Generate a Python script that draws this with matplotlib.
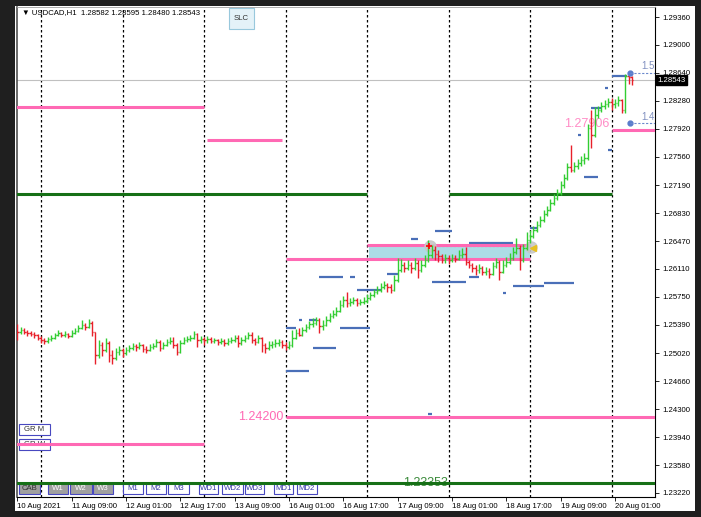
import numpy as np
import matplotlib.pyplot as plt
import matplotlib.transforms as mtransforms
from matplotlib.patches import Rectangle

# USDCAD H1 bars, bar 0 = 11 Aug 2021 00:00 (opens = previous close)
start_bar = -7
first_open = 1.2537
closes = [
    1.2530, 1.2532, 1.2530, 1.2528, 1.2527, 1.2526, 1.2522,
    1.2519, 1.2518, 1.2521, 1.2522, 1.2526, 1.2528, 1.2526, 1.2527, 1.2524, 1.2528, 1.2531, 1.2535,
    1.2539, 1.2536, 1.2541, 1.2530, 1.2500, 1.2513, 1.2506, 1.2515, 1.2500, 1.2496, 1.2504, 1.2506,
    1.2503, 1.2506, 1.2509, 1.2512, 1.2510, 1.2513, 1.2508, 1.2506, 1.2510, 1.2512, 1.2517, 1.2509,
    1.2513, 1.2517, 1.2518, 1.2513, 1.2504, 1.2515, 1.2519, 1.2521, 1.2522, 1.2527, 1.2519, 1.2521,
    1.2519, 1.2521, 1.2518, 1.2519, 1.2517, 1.2518, 1.2515, 1.2518, 1.2519, 1.2522, 1.2515, 1.2519,
    1.2522, 1.2526, 1.2519, 1.2517, 1.2522, 1.2513, 1.2509, 1.2513, 1.2514, 1.2515, 1.2517, 1.2513,
    1.2510, 1.2513, 1.2522, 1.2528, 1.2526, 1.2532, 1.2536, 1.2540, 1.2541, 1.2545, 1.2537, 1.2539,
    1.2545, 1.2550, 1.2553, 1.2557, 1.2564, 1.2571, 1.2567, 1.2568, 1.2571, 1.2567, 1.2568, 1.2570,
    1.2573, 1.2577, 1.2581, 1.2584, 1.2588, 1.2590, 1.2588, 1.2584, 1.2597, 1.2610, 1.2616, 1.2612,
    1.2616, 1.2612, 1.2619, 1.2610, 1.2616, 1.2622, 1.2629, 1.2635, 1.2630, 1.2628, 1.2622, 1.2625,
    1.2622, 1.2625, 1.2624, 1.2629, 1.2630, 1.2620, 1.2616, 1.2612, 1.2610, 1.2612, 1.2607, 1.2608,
    1.2604, 1.2615, 1.2620, 1.2607, 1.2616, 1.2620, 1.2625, 1.2633, 1.2638, 1.2622, 1.2638, 1.2648,
    1.2653, 1.2661, 1.2668, 1.2674, 1.2682, 1.2687, 1.2696, 1.2702, 1.2709, 1.2719, 1.2728, 1.2742,
    1.2739, 1.2744, 1.2748, 1.2751, 1.2754, 1.2793, 1.2784, 1.2810, 1.2816, 1.2821, 1.2824, 1.2826,
    1.2824, 1.2825, 1.2829, 1.2816, 1.2860, 1.28582, 1.28543,
]
highs = [
    1.2540, 1.2536, 1.2535, 1.2532, 1.2531, 1.2530, 1.2527,
    1.2524, 1.2522, 1.2523, 1.2526, 1.2528, 1.2532, 1.2530, 1.2531, 1.2528, 1.2532, 1.2535, 1.2539,
    1.2545, 1.2541, 1.2546, 1.2544, 1.2528, 1.2519, 1.2517, 1.2522, 1.2518, 1.2506, 1.2509, 1.2512,
    1.2509, 1.2510, 1.2513, 1.2515, 1.2514, 1.2517, 1.2514, 1.2512, 1.2514, 1.2515, 1.2521, 1.2519,
    1.2517, 1.2521, 1.2523, 1.2523, 1.2515, 1.2519, 1.2523, 1.2524, 1.2526, 1.2531, 1.2528, 1.2524,
    1.2523, 1.2524, 1.2523, 1.2522, 1.2521, 1.2522, 1.2521, 1.2522, 1.2523, 1.2526, 1.2526, 1.2523,
    1.2526, 1.2530, 1.2530, 1.2522, 1.2526, 1.2523, 1.2515, 1.2518, 1.2518, 1.2521, 1.2521, 1.2519,
    1.2517, 1.2518, 1.2532, 1.2533, 1.2535, 1.2536, 1.2540, 1.2544, 1.2548, 1.2549, 1.2548, 1.2545,
    1.2550, 1.2554, 1.2558, 1.2562, 1.2571, 1.2576, 1.2581, 1.2573, 1.2575, 1.2573, 1.2572, 1.2575,
    1.2579, 1.2581, 1.2585, 1.2589, 1.2593, 1.2595, 1.2593, 1.2592, 1.2603, 1.2625, 1.2624, 1.2620,
    1.2622, 1.2620, 1.2625, 1.2622, 1.2622, 1.2629, 1.2648, 1.2642, 1.2641, 1.2635, 1.2630, 1.2630,
    1.2629, 1.2630, 1.2629, 1.2635, 1.2638, 1.2639, 1.2622, 1.2619, 1.2616, 1.2617, 1.2615, 1.2613,
    1.2612, 1.2620, 1.2625, 1.2622, 1.2622, 1.2626, 1.2632, 1.2639, 1.2651, 1.2642, 1.2643, 1.2659,
    1.2661, 1.2666, 1.2673, 1.2679, 1.2687, 1.2692, 1.2701, 1.2708, 1.2714, 1.2724, 1.2733, 1.2748,
    1.2771, 1.2749, 1.2753, 1.2757, 1.2761, 1.2798, 1.2816, 1.2820, 1.2821, 1.2826, 1.2829, 1.2831,
    1.2831, 1.2830, 1.2834, 1.2830, 1.2862, 1.2861, 1.28595,
]
lows = [
    1.2519, 1.2527, 1.2527, 1.2524, 1.2524, 1.2522, 1.2519,
    1.2515, 1.2514, 1.2515, 1.2518, 1.2521, 1.2524, 1.2523, 1.2523, 1.2522, 1.2523, 1.2527, 1.2530,
    1.2533, 1.2532, 1.2535, 1.2524, 1.2488, 1.2496, 1.2499, 1.2504, 1.2491, 1.2488, 1.2493, 1.2500,
    1.2497, 1.2500, 1.2504, 1.2506, 1.2505, 1.2508, 1.2504, 1.2503, 1.2505, 1.2508, 1.2510, 1.2505,
    1.2508, 1.2512, 1.2514, 1.2509, 1.2500, 1.2503, 1.2514, 1.2517, 1.2518, 1.2521, 1.2510, 1.2515,
    1.2513, 1.2515, 1.2515, 1.2515, 1.2513, 1.2514, 1.2512, 1.2513, 1.2515, 1.2517, 1.2510, 1.2513,
    1.2517, 1.2521, 1.2515, 1.2513, 1.2515, 1.2504, 1.2503, 1.2506, 1.2509, 1.2510, 1.2512, 1.2509,
    1.2506, 1.2508, 1.2510, 1.2521, 1.2524, 1.2524, 1.2530, 1.2533, 1.2536, 1.2539, 1.2528, 1.2532,
    1.2537, 1.2543, 1.2548, 1.2550, 1.2555, 1.2562, 1.2562, 1.2563, 1.2566, 1.2563, 1.2564, 1.2566,
    1.2567, 1.2571, 1.2575, 1.2579, 1.2581, 1.2585, 1.2581, 1.2580, 1.2583, 1.2594, 1.2607, 1.2607,
    1.2610, 1.2606, 1.2610, 1.2599, 1.2607, 1.2613, 1.2620, 1.2625, 1.2622, 1.2620, 1.2619, 1.2619,
    1.2617, 1.2620, 1.2620, 1.2622, 1.2625, 1.2616, 1.2612, 1.2607, 1.2603, 1.2606, 1.2603, 1.2603,
    1.2599, 1.2603, 1.2612, 1.2597, 1.2606, 1.2613, 1.2617, 1.2622, 1.2630, 1.2610, 1.2620, 1.2635,
    1.2644, 1.2651, 1.2659, 1.2665, 1.2672, 1.2679, 1.2686, 1.2693, 1.2700, 1.2706, 1.2715, 1.2726,
    1.2736, 1.2736, 1.2740, 1.2744, 1.2746, 1.2751, 1.2767, 1.2781, 1.2806, 1.2813, 1.2817, 1.2820,
    1.2816, 1.2819, 1.2821, 1.2812, 1.2812, 1.2850, 1.2848,
]

price_ticks = [1.29360, 1.29000, 1.28640, 1.28280, 1.27920, 1.27560, 1.27190, 1.26830, 1.26470,
               1.26110, 1.25750, 1.25390, 1.25020, 1.24660, 1.24300, 1.23940, 1.23580, 1.23220]
date_bars = [-7, 9, 25, 41, 57, 73, 89, 105, 121, 137, 153, 169]
date_labels = ['10 Aug 2021', '11 Aug 09:00', '12 Aug 01:00', '12 Aug 17:00', '13 Aug 09:00',
               '16 Aug 01:00', '16 Aug 17:00', '17 Aug 09:00', '18 Aug 01:00', '18 Aug 17:00',
               '19 Aug 09:00', '20 Aug 01:00']
day_starts = [0, 24, 48, 72, 96, 120, 144, 168]

# horizontal level lines (price, from bar, to bar)
pink_levels = [1.2820, 1.2777, 1.2642, 1.2624, 1.2420, 1.2385, 1.27906]
pink_from = [-8, 49, 96, 72, 72, -8, 168]
pink_to = [48, 71, 144, 144, 182, 48, 182]
green_levels = [1.2708, 1.2708, 1.23353]
green_from = [-8, 120, -8]
green_to = [96, 168, 182]
box_low, box_high, box_from, box_to = 1.2624, 1.2642, 96.5, 144

# short blue indicator dashes
blue_levels = [1.2479, 1.2535, 1.2509, 1.2601, 1.2601, 1.2545, 1.2545, 1.2535, 1.2584, 1.2604,
               1.2650, 1.2660, 1.2594, 1.2601, 1.2644, 1.2580, 1.2589, 1.2593, 1.2664, 1.2730,
               1.2819, 1.2784, 1.2844, 1.2764, 1.2860, 1.2424]
blue_from = [72, 72, 80, 82, 91, 76, 79, 88, 93, 102, 109, 116, 115, 126, 126, 136, 139, 148,
             144, 160, 162, 158, 166, 167, 168, 114]
blue_to = [79, 75, 87, 89, 92.5, 77, 81, 97, 100, 105, 111, 121, 125, 129, 139, 137, 148, 157,
           146, 164, 165, 159, 167, 168, 172.5, 115]

current_price = 1.28543
target_levels = [1.2864, 1.2799]
target_labels = ['1.5', '1.4']

W, H = 701, 517
fig = plt.figure(figsize=(W / 100, H / 100), dpi=100)
fig.patch.set_facecolor('#1f1f1f')
# white chart window
fig.add_artist(Rectangle((15 / W, 1 - 511 / H), 680 / W, 505 / H, transform=fig.transFigure,
                         facecolor='white', edgecolor='none', zorder=0))

ax = fig.add_axes([17 / W, 20 / H, 638 / W, 490 / H])
ax.set_facecolor('white')
ax.set_xlim(-7.07, 180.8)
ax.set_ylim(1.23168, 1.29489)

font = ['Liberation Sans', 'DejaVu Sans']

# period separators
for d in day_starts:
    ax.axvline(d, color='black', lw=0.9, ls=(0, (2, 2)), zorder=1)

# levels
ax.fill_between([box_from, box_to], box_low, box_high, color='#acdce6', zorder=1, lw=0)
for p, a, b in zip(pink_levels, pink_from, pink_to):
    ax.hlines(p, a, b, color='#ff69b4', lw=2.2, zorder=3)
for p, a, b in zip(green_levels, green_from, green_to):
    ax.hlines(p, a, b, color='#167016', lw=2.2, zorder=3)
ax.axhline(current_price, color='#c0c0c0', lw=0.8, zorder=1)
for p, a, b in zip(blue_levels, blue_from, blue_to):
    ax.hlines(p, a, b, color='#4a6fb8', lw=1.6, zorder=2)

ax.text(71.5, 1.2420, '1.24200', color='#ff69b4', fontsize=9, ha='right', va='center',
        family=font, zorder=2)
ax.text(119.7, 1.23353, '1.23353', color='#3a8a3a', fontsize=9, ha='right', va='center',
        family=font, zorder=2)
ax.text(167.5, 1.27906, '1.27906', color='#ff8cc6', fontsize=9, ha='right', va='bottom',
        family=font, zorder=2)

# trade markers in the box
ax.hlines(1.2640, 114.5, 144.3, color='#c87878', lw=0.8, ls=(0, (2, 1.5)), zorder=2)
ax.plot([114.5, 144.3], [1.2640, 1.2639], 'o', ms=8, color='#c8c8c8', alpha=0.9, zorder=4)
ax.plot(114.3, 1.2640, marker='+', ms=4, color='red', mew=1.2, zorder=5)
ax.plot(145.0, 1.2638, marker='<', ms=4, color='#e8c020', zorder=5)

# OHLC bars
x = np.arange(start_bar, start_bar + len(closes))
c = np.array(closes)
o = np.concatenate([[first_open], c[:-1]])
hi = np.maximum(np.array(highs), np.maximum(o, c))
lo = np.minimum(np.array(lows), np.minimum(o, c))
col = np.where(c >= o, '#32cd32', '#e8202a')
ax.vlines(x, lo, hi, colors=col, lw=1.0, zorder=4)
ax.hlines(o, x - 0.45, x, colors=col, lw=1.0, zorder=4)
ax.hlines(c, x, x + 0.45, colors=col, lw=1.0, zorder=4)

# targets on the right
for p, t in zip(target_levels, target_labels):
    ax.plot(173.4, p, 'o', ms=3.5, color='#5a7ccc', zorder=5)
    ax.hlines(p, 173.4, 182, color='#6a88cc', lw=0.8, ls=(0, (2, 1.5)), zorder=5)
    ax.text(176.8, p + 0.0002, t, color='#8090c0', fontsize=7, ha='left', va='bottom',
            family=font, clip_on=True, zorder=5)

# axes styling
ax.yaxis.tick_right()
ax.set_yticks(price_ticks)
ax.set_yticklabels(['%.5f' % v for v in price_ticks], family=font)
ax.tick_params(axis='y', length=3, width=0.6, labelsize=5.6, pad=2)
ax.set_xticks(date_bars)
ax.set_xticklabels(date_labels, family=font)
ax.tick_params(axis='x', length=3, width=0.6, labelsize=5.6, pad=1.5)
for lbl in ax.get_xticklabels():
    lbl.set_ha('left')
for s in ['right', 'bottom']:
    ax.spines[s].set_color('black')
    ax.spines[s].set_linewidth(0.8)
ax.spines['left'].set_color('#505050')
ax.spines['left'].set_linewidth(1.2)
ax.spines['top'].set_color('#a0a0a0')
ax.spines['top'].set_linewidth(0.6)

# current price tag on the price scale
ytr = mtransforms.blended_transform_factory(ax.transAxes, ax.transData)
ax.text(1.004, current_price, '%.5f' % current_price, transform=ytr, color='white',
        fontsize=5.6, ha='left', va='center', family=font, clip_on=False, zorder=6,
        bbox=dict(boxstyle='square,pad=0.2', fc='black', ec='black'))

# header
fig.text(22 / W, 1 - 13 / H, '\u25bc USDCAD,H1  1.28582 1.28595 1.28480 1.28543',
         fontsize=5.6, va='center', ha='left', family=font, zorder=5)


def button(x0, y0, x1, y1, label, fc, ec, tc):
    ax.add_patch(Rectangle((x0 / W, 1 - y1 / H), (x1 - x0) / W, (y1 - y0) / H,
                           transform=fig.transFigure, facecolor=fc, edgecolor=ec, lw=0.8,
                           clip_on=False, zorder=2))
    ax.text((x0 + x1) / 2 / W, 1 - (y0 + y1) / 2 / H, label, transform=fig.transFigure,
            fontsize=5.6, ha='center', va='center', color=tc, family=font, clip_on=False,
            zorder=2)


button(229, 8, 254, 29, 'SLC', '#e4f2f8', '#98c8dc', '#333333')
button(19, 424, 50, 435, 'GR M', 'white', '#4848c0', '#333333')
button(19, 439, 50, 450, 'GR W', 'white', '#4848c0', '#333333')

gray_buttons = [('CAB', 19, 40), ('W1', 48, 68), ('W2', 70, 92), ('W3', 93, 113)]
white_buttons = [('M1', 123, 143), ('M2', 146, 166), ('M3', 168, 189), ('WD1', 199, 218),
                 ('WD2', 222, 243), ('WD3', 245, 264), ('MD1', 274, 293), ('MD2', 297, 317)]
for lab, a, b in gray_buttons:
    button(a, 483, b, 494, lab, '#a0a0a0', '#4848c0', '#303030' if lab == 'CAB' else 'white')
for lab, a, b in white_buttons:
    button(a, 483, b, 494, lab, 'white', '#4848c0', '#3838a8')

fig.savefig('out.png', dpi=100)
